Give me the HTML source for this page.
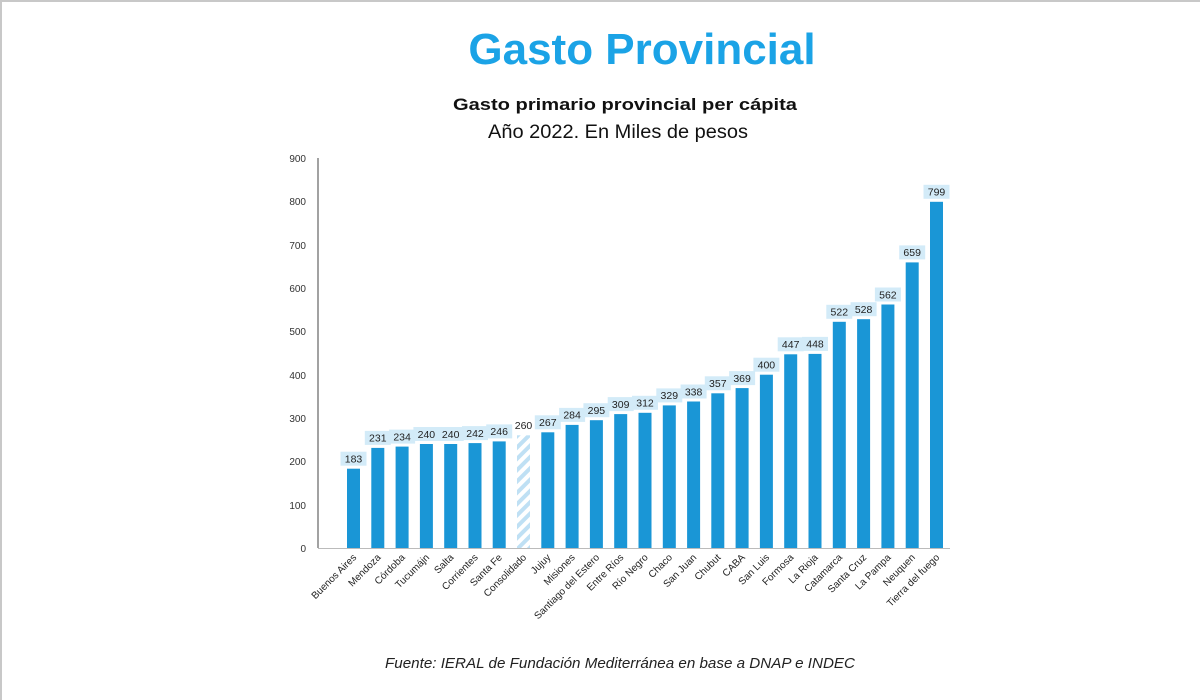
<!DOCTYPE html>
<html><head><meta charset="utf-8"><style>
html,body{margin:0;padding:0;background:#fff}
svg{display:block}
text{font-family:"Liberation Sans","DejaVu Sans",sans-serif}
</style></head><body>
<svg width="1200" height="700" viewBox="0 0 1200 700" xmlns="http://www.w3.org/2000/svg">
<defs>
<pattern id="h" patternUnits="userSpaceOnUse" width="8" height="8" patternTransform="rotate(45)">
<rect width="8" height="8" fill="#fff"/><rect width="4" height="8" fill="#bfe0f4"/>
</pattern>
</defs>
<rect x="0" y="0" width="1200" height="700" fill="#fff"/>
<rect x="0" y="0" width="1200" height="2" fill="#c8c8c8"/>
<rect x="0" y="0" width="2" height="700" fill="#c8c8c8"/>
<text x="642" y="64" text-anchor="middle" font-size="44" font-weight="bold" fill="#1ba3e6">Gasto Provincial</text>
<text x="625" y="110" text-anchor="middle" font-size="17" font-weight="bold" fill="#111" textLength="344" lengthAdjust="spacingAndGlyphs">Gasto primario provincial per cápita</text>
<text x="618" y="138" text-anchor="middle" font-size="19" fill="#111" textLength="260" lengthAdjust="spacingAndGlyphs">Año 2022. En Miles de pesos</text>
<g font-size="10" fill="#333" text-anchor="end">
<text x="306" y="552">0</text><text x="306" y="509">100</text><text x="306" y="465">200</text><text x="306" y="422">300</text><text x="306" y="379">400</text><text x="306" y="335">500</text><text x="306" y="292">600</text><text x="306" y="249">700</text><text x="306" y="205">800</text><text x="306" y="162">900</text>
</g>
<line x1="318" y1="158" x2="318" y2="548" stroke="#444" stroke-width="1"/>
<line x1="318" y1="548.5" x2="950" y2="548.5" stroke="#bbb" stroke-width="1"/>
<g fill="#1a96d6">
<rect x="347" y="468.7" width="13" height="79.3"/>
<rect x="371.3" y="447.9" width="13" height="100.1"/>
<rect x="395.6" y="446.6" width="13" height="101.4"/>
<rect x="419.9" y="444" width="13" height="104"/>
<rect x="444.2" y="444" width="13" height="104"/>
<rect x="468.5" y="443.1" width="13" height="104.9"/>
<rect x="492.7" y="441.4" width="13" height="106.6"/>
<rect x="517" y="435.3" width="13" height="112.7" fill="url(#h)"/>
<rect x="541.3" y="432.3" width="13" height="115.7"/>
<rect x="565.6" y="424.9" width="13" height="123.1"/>
<rect x="589.9" y="420.2" width="13" height="127.8"/>
<rect x="614.2" y="414.1" width="13" height="133.9"/>
<rect x="638.5" y="412.8" width="13" height="135.2"/>
<rect x="662.8" y="405.4" width="13" height="142.6"/>
<rect x="687.1" y="401.5" width="13" height="146.5"/>
<rect x="711.3" y="393.3" width="13" height="154.7"/>
<rect x="735.6" y="388.1" width="13" height="159.9"/>
<rect x="759.9" y="374.7" width="13" height="173.3"/>
<rect x="784.2" y="354.3" width="13" height="193.7"/>
<rect x="808.5" y="353.9" width="13" height="194.1"/>
<rect x="832.8" y="321.8" width="13" height="226.2"/>
<rect x="857.1" y="319.2" width="13" height="228.8"/>
<rect x="881.4" y="304.5" width="13" height="243.5"/>
<rect x="905.7" y="262.4" width="13" height="285.6"/>
<rect x="930" y="201.8" width="13" height="346.2"/>
</g>
<g fill="#d3ebf8">
<rect x="340.5" y="451.7" width="26" height="14"/>
<rect x="364.8" y="430.9" width="26" height="14"/>
<rect x="389.1" y="429.6" width="26" height="14"/>
<rect x="413.4" y="427" width="26" height="14"/>
<rect x="437.7" y="427" width="26" height="14"/>
<rect x="462" y="426.1" width="26" height="14"/>
<rect x="486.2" y="424.4" width="26" height="14"/>
<rect x="534.8" y="415.3" width="26" height="14"/>
<rect x="559.1" y="407.9" width="26" height="14"/>
<rect x="583.4" y="403.2" width="26" height="14"/>
<rect x="607.7" y="397.1" width="26" height="14"/>
<rect x="632" y="395.8" width="26" height="14"/>
<rect x="656.3" y="388.4" width="26" height="14"/>
<rect x="680.6" y="384.5" width="26" height="14"/>
<rect x="704.8" y="376.3" width="26" height="14"/>
<rect x="729.1" y="371.1" width="26" height="14"/>
<rect x="753.4" y="357.7" width="26" height="14"/>
<rect x="777.7" y="337.3" width="26" height="14"/>
<rect x="802" y="336.9" width="26" height="14"/>
<rect x="826.3" y="304.8" width="26" height="14"/>
<rect x="850.6" y="302.2" width="26" height="14"/>
<rect x="874.9" y="287.5" width="26" height="14"/>
<rect x="899.2" y="245.4" width="26" height="14"/>
<rect x="923.5" y="184.8" width="26" height="14"/>
</g>
<g font-size="10.5" fill="#222" text-anchor="middle">
<text x="353.5" y="462.5">183</text>
<text x="377.8" y="441.7">231</text>
<text x="402.1" y="440.4">234</text>
<text x="426.4" y="437.8">240</text>
<text x="450.7" y="437.8">240</text>
<text x="475" y="436.9">242</text>
<text x="499.2" y="435.2">246</text>
<text x="523.5" y="429.1">260</text>
<text x="547.8" y="426.1">267</text>
<text x="572.1" y="418.7">284</text>
<text x="596.4" y="414">295</text>
<text x="620.7" y="407.9">309</text>
<text x="645" y="406.6">312</text>
<text x="669.3" y="399.2">329</text>
<text x="693.6" y="395.3">338</text>
<text x="717.8" y="387.1">357</text>
<text x="742.1" y="381.9">369</text>
<text x="766.4" y="368.5">400</text>
<text x="790.7" y="348.1">447</text>
<text x="815" y="347.7">448</text>
<text x="839.3" y="315.6">522</text>
<text x="863.6" y="313">528</text>
<text x="887.9" y="298.3">562</text>
<text x="912.2" y="256.2">659</text>
<text x="936.5" y="195.6">799</text>
</g>
<g font-size="10" fill="#222" text-anchor="end">
<text transform="translate(357,558) rotate(-45)">Buenos Aires</text>
<text transform="translate(381.3,558) rotate(-45)">Mendoza</text>
<text transform="translate(405.6,558) rotate(-45)">Córdoba</text>
<text transform="translate(429.9,558) rotate(-45)">Tucumájn</text>
<text transform="translate(454.2,558) rotate(-45)">Salta</text>
<text transform="translate(478.5,558) rotate(-45)">Corrientes</text>
<text transform="translate(502.7,558) rotate(-45)">Santa Fe</text>
<text transform="translate(527,558) rotate(-45)">Consolidado</text>
<text transform="translate(551.3,558) rotate(-45)">Jujuy</text>
<text transform="translate(575.6,558) rotate(-45)">Misiones</text>
<text transform="translate(599.9,558) rotate(-45)">Santiago del Estero</text>
<text transform="translate(624.2,558) rotate(-45)">Entre Ríos</text>
<text transform="translate(648.5,558) rotate(-45)">Río Negro</text>
<text transform="translate(672.8,558) rotate(-45)">Chaco</text>
<text transform="translate(697.1,558) rotate(-45)">San Juan</text>
<text transform="translate(721.3,558) rotate(-45)">Chubut</text>
<text transform="translate(745.6,558) rotate(-45)">CABA</text>
<text transform="translate(769.9,558) rotate(-45)">San Luis</text>
<text transform="translate(794.2,558) rotate(-45)">Formosa</text>
<text transform="translate(818.5,558) rotate(-45)">La Rioja</text>
<text transform="translate(842.8,558) rotate(-45)">Catamarca</text>
<text transform="translate(867.1,558) rotate(-45)">Santa Cruz</text>
<text transform="translate(891.4,558) rotate(-45)">La Pampa</text>
<text transform="translate(915.7,558) rotate(-45)">Neuquen</text>
<text transform="translate(940,558) rotate(-45)">Tierra del fuego</text>
</g>
<text x="620" y="668" text-anchor="middle" font-size="14.5" font-style="italic" fill="#222" textLength="470" lengthAdjust="spacingAndGlyphs">Fuente: IERAL de Fundación Mediterránea en base a DNAP e INDEC</text>
</svg>
</body></html>
